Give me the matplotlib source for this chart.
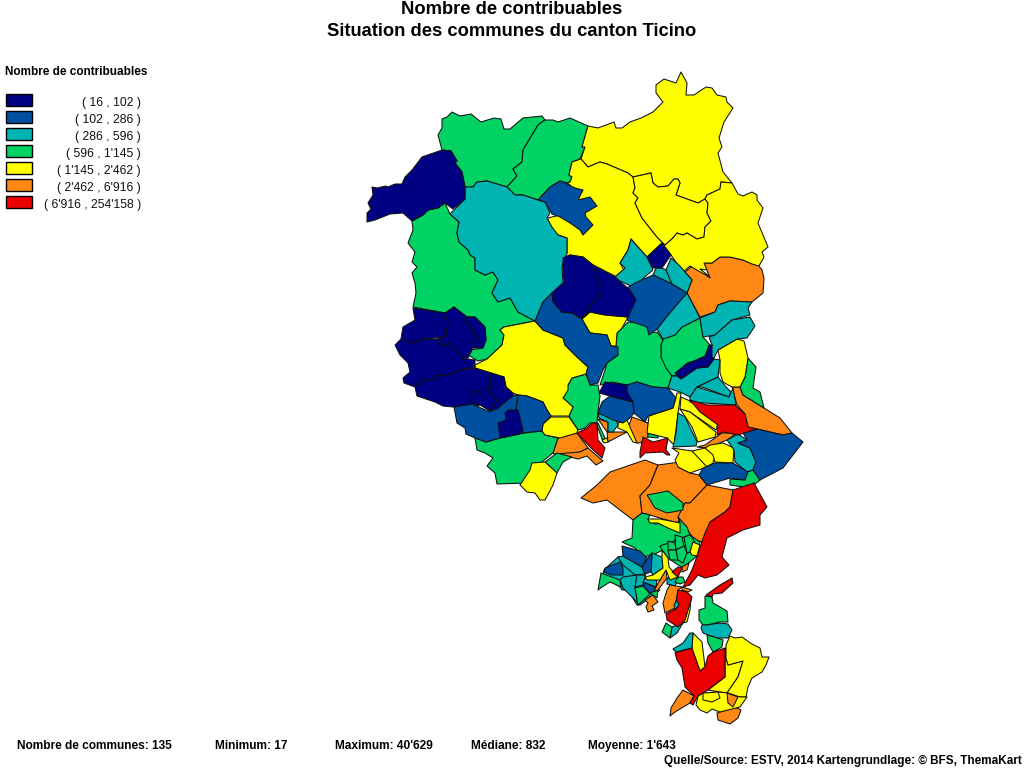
import matplotlib
matplotlib.use("Agg")
import matplotlib.pyplot as plt
from matplotlib.patches import Polygon, Rectangle

plt.rcParams["font.family"] = ["Liberation Sans", "DejaVu Sans"]

TITLE_LINES = ["Nombre de contribuables", "Situation des communes du canton Ticino"]
LEGEND_TITLE = "Nombre de contribuables"
LEGEND_LABELS = ["( 16 , 102 )", "( 102 , 286 )", "( 286 , 596 )", "( 596 , 1'145 )",
                 "( 1'145 , 2'462 )", "( 2'462 , 6'916 )", "( 6'916 , 254'158 )"]
CLASS_COLORS = ["#000082", "#0050A0", "#00B4B4", "#00D264", "#FFFF00", "#FF8714", "#EB0000"]
STATS = [("Nombre de communes: 135", 17), ("Minimum: 17", 215), ("Maximum: 40'629", 335),
         ("Médiane: 832", 471), ("Moyenne: 1'643", 588)]
SOURCE = "Quelle/Source: ESTV, 2014 Kartengrundlage: © BFS, ThemaKart"

# outlines of the communes (pixel positions of the map)
orange = [
    [(685,272),(692,266),(700,270),(710,278),(704,263),(712,263),(720,257),(730,257),(743,260),(759,266),(762,270),(764,278),(763,293),(752,302),(730,301),(718,305),(715,312),(700,317),(687,293),(692,280)],
    [(732,387),(740,387),(743,395),(764,408),(780,418),(792,433),(783,435),(757,429),(748,427),(745,414),(737,405)],
    [(558,438),(577,433),(588,448),(580,452),(557,456),(553,453)],
    [(555,454),(580,452),(588,448),(603,461),(596,465),(587,456),(578,459),(570,457)],
    [(581,498),(597,485),(610,472),(645,460),(658,465),(655,472),(650,485),(640,496),(642,513),(633,520),(607,500),(593,503)],
    [(650,485),(658,465),(680,462),(678,467),(690,473),(699,475),(707,485),(690,503),(685,503),(678,523),(660,518),(650,515),(642,513),(640,496)],
    [(707,485),(733,490),(730,507),(725,512),(710,522),(703,542),(695,540),(683,525),(678,517),(685,503),(690,503)],
    [(632,417),(648,423),(648,437),(640,443),(637,443),(628,428)],
    [(598,419),(608,422),(608,432),(627,432),(608,442),(607,432)],
    [(697,447),(705,445),(722,433),(737,433),(727,440),(707,448)],
    [(683,690),(694,696),(690,703),(675,712),(670,716),(671,708),(677,698)],
    [(717,713),(735,707),(741,710),(738,718),(730,724),(718,720)],
]
green = [
    [(442,119),(447,117),(452,112),(460,116),(471,114),(481,122),(494,118),(501,119),(504,129),(510,129),(523,118),(542,116),(545,120),(538,125),(523,150),(522,162),(513,169),(517,176),(507,187),(487,181),(477,182),(473,187),(465,187),(462,172),(455,163),(457,161),(451,151),(442,150),(438,135),(442,128)],
    [(545,120),(553,120),(558,122),(570,118),(588,126),(582,147),(585,147),(580,159),(572,162),(569,175),(572,177),(570,182),(567,183),(560,181),(550,187),(538,200),(523,195),(515,195),(507,187),(517,176),(513,169),(522,162),(523,150),(538,125)],
    [(412,221),(423,215),(428,210),(438,208),(445,203),(450,214),(459,222),(457,233),(459,242),(468,250),(470,255),(475,258),(475,270),(485,275),(493,272),(498,280),(492,293),(498,302),(510,298),(518,312),(535,321),(504,327),(500,330),(504,335),(502,345),(487,359),(478,361),(468,355),(470,350),(483,348),(486,340),(485,327),(475,317),(467,317),(454,307),(445,313),(413,307),(416,293),(415,283),(412,273),(417,267),(412,262),(415,252),(408,243),(413,230)],
    [(475,438),(486,442),(500,438),(523,433),(542,431),(545,435),(558,438),(553,453),(543,461),(527,483),(497,484),(495,473),(487,466),(493,458),(485,453),(477,450)],
    [(545,462),(557,453),(572,457),(563,462),(557,473)],
    [(663,339),(675,335),(682,327),(700,318),(703,337),(710,345),(708,357),(687,363),(677,375),(672,376),(665,368),(661,357),(661,344)],
    [(628,322),(645,323),(649,333),(657,332),(663,340),(661,345),(661,357),(666,368),(672,376),(668,388),(653,387),(637,382),(627,385),(612,382),(600,385),(605,370),(607,363),(618,355),(616,346),(617,333)],
    [(572,378),(586,374),(590,385),(598,385),(600,396),(598,412),(597,423),(590,423),(585,428),(578,430),(569,416),(573,407),(563,398),(568,385)],
    [(748,358),(756,367),(753,388),(760,392),(764,408),(743,395),(740,387),(745,377)],
    [(747,472),(753,470),(760,480),(750,488),(730,485),(730,479),(745,480)],
    [(647,495),(668,491),(683,503),(683,510),(667,513),(655,508)],
    [(633,520),(642,513),(650,515),(648,519),(655,524),(680,522),(678,517),(687,527),(690,535),(698,542),(690,545),(680,548),(670,548),(663,550),(653,555),(643,557),(635,548),(622,542),(632,538)],
    [(660,546),(690,535),(700,542),(697,556),(690,562),(682,567),(678,565),(668,558),(662,550)],
    [(705,596),(712,597),(713,603),(727,611),(728,622),(720,622),(707,625),(703,625),(699,620),(699,610),(705,608)],
    [(707,635),(718,638),(723,640),(722,647),(713,652),(708,643)],
    [(597,425),(598,423),(605,438),(603,442)],
    [(648,433),(658,436),(658,438),(648,437)],
]
yellow = [
    [(588,126),(598,128),(614,122),(616,128),(622,128),(630,122),(641,118),(653,112),(663,102),(656,93),(656,85),(664,79),(676,83),(681,72),(687,83),(686,95),(694,95),(706,87),(712,88),(717,95),(726,97),(727,102),(733,108),(724,122),(719,138),(722,147),(718,153),(723,172),(732,183),(721,182),(720,189),(707,195),(705,199),(698,203),(676,195),(680,183),(678,179),(674,179),(668,186),(658,187),(653,183),(651,173),(633,177),(628,173),(607,164),(600,162),(588,167),(581,159),(585,147),(582,147)],
    [(581,159),(588,167),(600,162),(607,164),(628,173),(633,177),(635,188),(633,193),(638,198),(635,203),(642,218),(653,232),(657,237),(665,245),(662,243),(647,257),(638,247),(631,239),(628,250),(620,263),(625,272),(617,277),(593,265),(583,257),(570,255),(563,258),(567,253),(567,238),(558,235),(547,227),(548,218),(560,215),(570,185),(567,183),(570,182),(572,177),(569,175),(572,162)],
    [(633,177),(651,173),(653,183),(658,187),(668,186),(674,179),(678,179),(680,183),(676,195),(698,203),(705,199),(708,203),(707,213),(711,221),(705,227),(704,237),(697,239),(687,233),(683,235),(677,233),(672,239),(665,245),(657,237),(653,232),(642,218),(635,203),(638,198),(633,193),(635,188)],
    [(705,199),(707,195),(720,189),(721,182),(732,183),(738,194),(743,196),(752,192),(757,195),(757,200),(763,208),(758,223),(768,247),(762,252),(764,257),(759,266),(752,264),(743,260),(730,257),(720,257),(712,263),(704,263),(707,270),(700,269),(710,277),(702,273),(690,266),(683,272),(671,255),(662,243),(665,245),(672,239),(677,233),(683,235),(687,233),(697,239),(704,237),(705,227),(711,221),(707,213),(708,203)],
    [(475,365),(487,359),(502,345),(504,335),(500,330),(504,327),(535,321),(543,330),(563,338),(565,345),(577,357),(588,367),(586,374),(572,378),(568,385),(568,390),(563,398),(573,407),(569,416),(551,416),(547,410),(543,402),(527,396),(518,395),(513,393),(506,387),(504,377),(491,373),(475,368)],
    [(551,417),(569,417),(578,430),(577,433),(560,438),(545,435),(542,431),(543,424)],
    [(520,485),(530,470),(532,463),(545,462),(557,473),(553,485),(545,500),(540,500),(535,493),(527,492)],
    [(582,319),(590,312),(605,315),(628,317),(622,328),(617,333),(616,346),(611,346),(607,335),(590,333)],
    [(718,350),(737,339),(744,341),(748,358),(745,377),(740,387),(732,387),(723,382),(720,373),(720,360)],
    [(681,397),(690,401),(718,423),(716,430),(690,412),(680,409)],
    [(680,409),(690,412),(716,432),(715,437),(698,442),(692,427)],
    [(677,393),(681,393),(678,413),(674,445),(667,438),(647,433),(649,416),(673,408)],
    [(618,423),(627,420),(630,427),(637,443),(633,442),(627,432),(618,428)],
    [(602,440),(607,438),(608,442),(604,443)],
    [(672,448),(692,451),(705,462),(707,467),(690,473),(678,467),(675,460),(679,453)],
    [(692,451),(705,448),(715,455),(713,463),(707,467)],
    [(705,448),(710,445),(723,443),(734,448),(733,463),(715,462),(713,455)],
    [(648,519),(660,519),(680,523),(680,533),(668,528),(658,523),(650,523)],
    [(693,633),(702,642),(705,667),(700,671),(692,649)],
    [(725,648),(726,658),(728,665),(743,661),(738,677),(727,693),(720,692),(708,690),(725,677)],
    [(726,645),(730,636),(735,638),(742,637),(752,644),(760,648),(762,657),(769,657),(766,665),(762,672),(752,678),(748,687),(746,697),(738,697),(727,693),(738,677),(743,661),(728,665),(726,658)],
    [(698,696),(703,693),(718,692),(728,693),(740,697),(747,697),(740,707),(720,712),(712,709),(707,713),(700,710),(696,705)],
    [(703,693),(718,692),(720,698),(712,702),(703,700)],
]
teal = [
    [(465,187),(473,187),(477,182),(487,181),(507,187),(515,195),(523,195),(538,200),(545,202),(550,213),(547,218),(552,227),(558,235),(567,238),(567,253),(563,263),(562,268),(563,283),(552,293),(543,302),(535,321),(518,312),(510,298),(498,302),(492,293),(498,280),(493,272),(485,275),(475,270),(475,258),(470,255),(468,250),(459,242),(457,233),(459,222),(450,214),(465,199)],
    [(615,277),(625,268),(620,263),(628,250),(631,239),(638,247),(647,257),(653,270),(633,287),(618,280)],
    [(653,275),(656,268),(662,268),(666,270),(672,284)],
    [(666,270),(671,258),(680,266),(685,272),(692,280),(687,293),(672,284)],
    [(687,293),(700,318),(682,327),(675,335),(663,339),(657,329),(668,315),(682,298)],
    [(718,305),(730,301),(752,302),(748,308),(750,315),(732,320),(715,335),(703,337),(700,318),(715,312)],
    [(732,320),(750,317),(755,326),(747,338),(737,339),(718,350),(714,358),(710,358),(712,345),(709,337),(715,335)],
    [(668,388),(672,376),(677,376),(681,379),(697,368),(708,367),(714,359),(720,360),(718,377),(697,387),(690,397),(680,392)],
    [(697,387),(718,377),(727,388),(731,392),(729,397),(702,387)],
    [(690,397),(697,387),(729,397),(733,388),(736,405),(720,404),(690,402)],
    [(678,413),(685,417),(697,442),(696,446),(673,447),(676,433)],
    [(598,414),(608,414),(615,418),(618,425),(613,432),(608,432),(608,422),(599,418)],
    [(727,440),(738,434),(747,440),(738,443),(750,448),(756,462),(753,470),(747,472),(735,462),(734,450)],
    [(702,625),(707,625),(720,623),(728,624),(732,630),(728,638),(718,638),(708,635),(703,633),(701,628)],
    [(673,649),(683,643),(690,633),(693,633),(692,648),(676,652)],
]
blue = [
    [(538,200),(550,187),(560,181),(567,184),(575,188),(583,190),(578,200),(590,197),(597,206),(585,213),(586,217),(593,225),(583,235),(580,230),(570,223),(560,217),(552,214),(545,202)],
    [(454,407),(472,404),(490,412),(514,395),(518,395),(516,410),(523,433),(500,438),(486,442),(475,438),(466,434),(465,428),(457,423)],
    [(518,395),(527,396),(543,402),(547,410),(551,416),(543,424),(542,431),(523,433),(516,410)],
    [(535,321),(543,302),(552,293),(553,302),(562,312),(572,313),(582,319),(590,333),(607,335),(611,346),(618,347),(618,355),(607,363),(603,370),(598,383),(590,385),(587,375),(586,374),(588,367),(577,357),(565,345),(563,338),(543,330)],
    [(627,288),(635,283),(653,275),(672,284),(687,293),(668,315),(657,329),(649,335),(647,327),(627,320),(635,300)],
    [(610,396),(633,402),(634,413),(630,418),(623,423),(613,420),(598,413),(602,402)],
    [(627,385),(637,382),(653,387),(668,388),(676,398),(673,408),(648,416),(645,422),(634,413),(633,402),(627,392)],
    [(757,429),(783,435),(792,433),(803,442),(793,455),(783,468),(760,480),(753,470),(756,462),(750,448),(738,443),(747,440),(743,433)],
    [(715,463),(733,463),(748,472),(745,480),(730,478),(707,485),(699,475),(703,468)],
]
navy = [
    [(451,151),(457,161),(455,163),(462,172),(465,187),(465,199),(453,209),(445,203),(438,208),(428,210),(423,215),(412,221),(403,213),(390,214),(375,220),(367,222),(367,213),(371,209),(368,203),(373,195),(372,187),(377,188),(386,186),(388,187),(395,184),(402,184),(405,177),(412,170),(422,157),(442,150)],
    [(413,308),(445,313),(448,322),(446,337),(423,339),(413,343),(401,339),(403,327),(415,320)],
    [(445,313),(454,307),(467,317),(467,323),(477,338),(473,348),(468,358),(462,358),(455,348),(448,343),(443,347),(437,339),(446,337),(448,322)],
    [(467,317),(475,317),(485,327),(486,340),(483,348),(473,348),(477,338),(467,323)],
    [(395,345),(401,339),(413,343),(423,339),(437,339),(443,347),(448,343),(455,348),(462,358),(475,360),(475,367),(460,370),(445,376),(438,375),(435,379),(423,380),(415,387),(404,383),(403,378),(410,372),(408,363),(400,355)],
    [(415,387),(423,380),(435,379),(438,375),(445,376),(460,370),(475,368),(491,373),(491,387),(486,388),(497,400),(490,411),(480,405),(472,404),(453,407),(443,406),(435,402),(417,396)],
    [(491,373),(504,377),(506,387),(514,395),(497,409),(490,411),(497,400),(486,388),(491,387)],
    [(473,390),(480,393),(479,406),(473,404)],
    [(505,413),(508,410),(518,410),(523,430),(520,434),(500,438),(498,423),(506,420)],
    [(563,258),(570,255),(583,257),(593,265),(600,287),(598,298),(590,305),(582,319),(572,313),(562,312),(553,302),(552,293),(564,282),(563,270)],
    [(593,265),(615,277),(630,290),(636,300),(628,317),(605,315),(590,312),(582,319),(590,305),(598,298),(600,287)],
    [(647,257),(662,243),(671,255),(662,268),(653,268)],
    [(709,345),(712,345),(712,357),(714,359),(708,367),(697,368),(681,379),(675,373),(685,365),(705,356)],
    [(599,393),(605,382),(627,385),(627,392),(633,402),(610,396)],
]
red = [
    [(690,400),(707,405),(735,405),(745,414),(748,427),(757,429),(738,435),(723,432),(717,435),(718,425),(700,412)],
    [(577,433),(587,428),(592,423),(597,423),(598,440),(605,448),(602,458),(590,447)],
    [(643,437),(653,442),(668,438),(666,450),(670,455),(667,455),(663,452),(645,453),(640,458),(640,452)],
    [(733,490),(754,483),(767,507),(760,515),(760,525),(743,530),(727,538),(722,557),(729,565),(717,575),(705,578),(698,575),(690,585),(683,587),(692,570),(695,562),(698,553),(705,533),(710,522),(725,512),(730,507)],
    [(706,595),(720,585),(732,578),(733,583),(722,593),(713,594),(712,597)],
    [(675,653),(692,648),(700,671),(705,667),(708,656),(713,652),(725,648),(725,677),(708,690),(698,696),(693,705),(690,703),(694,696),(685,687),(682,668),(677,660)],
]
# small communes in the south that sit on top of their neighbours
teal_top = [
    [(618,557),(642,567),(645,574),(647,580),(645,590),(655,590),(660,590),(640,605),(637,605),(628,590),(622,590),(620,587),(603,575),(604,570)],
    [(623,556),(642,567),(645,574),(635,575),(623,565),(618,557)],
    [(623,577),(637,575),(635,588),(638,603),(623,588),(620,580)],
    [(637,575),(645,575),(645,580),(643,585),(635,587)],
    [(645,578),(657,580),(656,587),(643,582)],
    [(652,553),(662,557),(663,568),(653,575),(651,572)],
    [(667,578),(675,577),(678,580),(675,586),(667,584)],
    [(672,627),(683,623),(677,633),(670,638)],
]
blue_top = [
    [(622,546),(640,551),(647,558),(642,567),(623,556)],
    [(642,567),(650,555),(652,553),(651,572),(645,574)],
    [(605,568),(620,562),(623,568),(623,575),(612,575),(604,572)],
    [(643,582),(655,587),(654,593),(650,593),(644,587)],
]
green_top = [
    [(601,573),(620,580),(621,587),(610,582),(602,587),(598,590)],
    [(635,588),(643,586),(650,594),(638,605)],
    [(650,593),(658,590),(657,598)],
    [(678,577),(683,577),(685,582),(680,584),(675,582)],
    [(668,541),(675,543),(676,550),(668,550)],
    [(675,535),(682,537),(684,546),(676,550)],
    [(668,550),(676,550),(678,560),(670,560)],
    [(676,550),(684,546),(687,553),(683,563),(678,560)],
    [(684,537),(690,535),(695,542),(690,552),(687,553)],
    [(666,623),(672,627),(670,638),(662,632)],
]
orange_top = [
    [(645,600),(653,595),(658,602),(652,606),(654,610),(648,612),(646,607),(648,603)],
    [(660,580),(666,570),(667,578),(658,590),(654,592),(656,587)],
    [(682,567),(689,563),(687,570),(682,572)],
    [(670,585),(682,587),(678,590),(676,602),(677,607),(665,613),(663,603),(667,590)],
    [(682,587),(692,590),(688,592),(682,590)],
    [(727,693),(738,697),(733,707),(728,703)],
]
yellow_top = [
    [(662,550),(668,558),(669,567),(678,577),(670,580),(666,570),(660,580),(647,580),(645,577),(653,575),(663,568),(662,557)],
    [(690,552),(693,542),(700,545),(697,556),(692,555)],
    [(691,598),(690,610),(687,622),(683,623),(685,620)],
]
red_top = [
    [(672,572),(678,567),(682,568),(678,577)],
    [(678,590),(687,592),(692,597),(685,620),(678,627),(667,620),(666,614),(677,608),(676,602)],
]
teal_spot = [
    [(677,600),(679,605),(675,610),(674,605)],
]

# drawing order matters, insets come after the commune around them
layers = [
    (orange, 5), (green, 3), (yellow, 4), (teal, 2), (blue, 1), (navy, 0), (red, 6),
    (teal_top, 2), (blue_top, 1), (green_top, 3), (orange_top, 5), (yellow_top, 4),
    (red_top, 6), (teal_spot, 2),
]

fig = plt.figure(figsize=(10.24, 7.68), dpi=100)
ax = fig.add_axes([0, 0, 1, 1])
ax.set_xlim(0, 1024)
ax.set_ylim(768, 0)
ax.axis("off")

for polys, cls in layers:
    for pts in polys:
        ax.add_patch(Polygon(pts, closed=True, facecolor=CLASS_COLORS[cls],
                             edgecolor="#101010", linewidth=0.75, joinstyle="round"))

ax.text(512, 10, TITLE_LINES[0], ha="center", va="center", fontsize=13.2, fontweight="bold")
ax.text(512, 31, TITLE_LINES[1], ha="center", va="center", fontsize=13.2, fontweight="bold")

# legend
ax.text(5, 72, LEGEND_TITLE, ha="left", va="center", fontsize=8.5, fontweight="bold")
for i, (label, color) in enumerate(zip(LEGEND_LABELS, CLASS_COLORS)):
    y = 93.5 + i * 17
    ax.add_patch(Rectangle((6, y), 25.5, 12.5, facecolor=color, edgecolor="black", linewidth=1))
    ax.text(141, y + 9.5, label, ha="right", va="center", fontsize=8.7, color="#111111")

# statistics at the bottom
for text, x in STATS:
    ax.text(x, 746, text, ha="left", va="center", fontsize=8.6, fontweight="bold")
ax.text(1022, 761, SOURCE, ha="right", va="center", fontsize=8.45, fontweight="bold")

fig.savefig("out.png", dpi=100)
